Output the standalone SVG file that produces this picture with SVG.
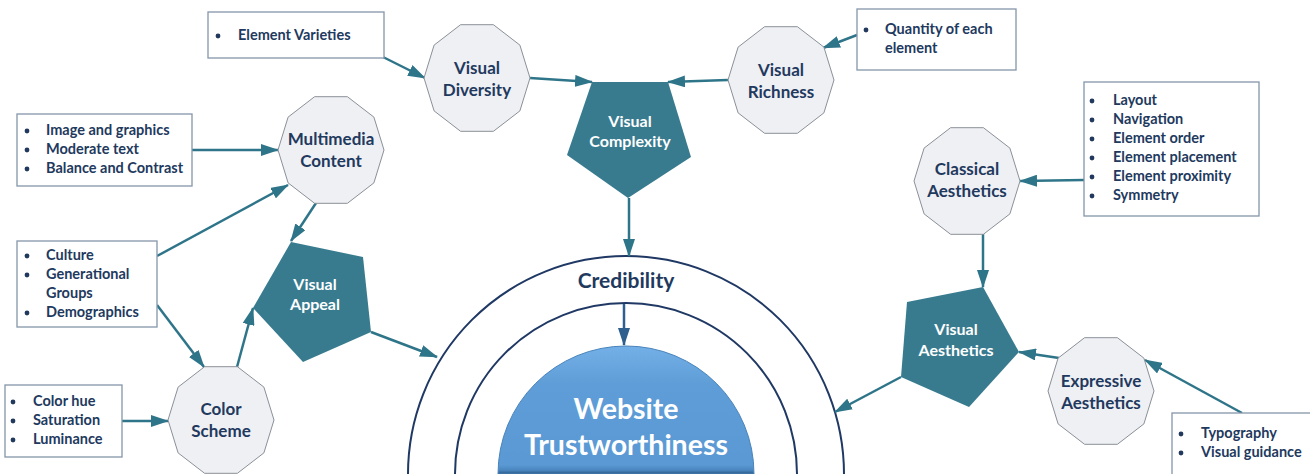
<svg xmlns="http://www.w3.org/2000/svg" width="1310" height="474" viewBox="0 0 1310 474">
<defs>
<style>
.box{fill:#fff;stroke:#8595AA;stroke-width:1.3}
.dec{fill:#EFF0F4;stroke:#8A9098;stroke-width:1}
.pent{fill:#387B8F}
.lt{font-family:Lato,"Liberation Sans",sans-serif;font-weight:bold;font-size:14.5px;fill:#22395E}
.nl{font-family:Lato,"Liberation Sans",sans-serif;font-weight:bold;font-size:17px;fill:#22395E;text-anchor:middle}
.pl{font-family:Lato,"Liberation Sans",sans-serif;font-weight:bold;font-size:16px;fill:#fff;text-anchor:middle}
.bul{fill:#22395E}
.con{stroke:#2F7589;stroke-width:2.5;fill:none;marker-end:url(#ah)}
.arc{fill:none;stroke:#1F3864;stroke-width:2}
</style>
<marker id="ah" markerUnits="userSpaceOnUse" markerWidth="18" markerHeight="12" refX="17" refY="6" orient="auto"><path d="M0,0 L18,6 L0,12 z" fill="#2F7589"/></marker>
<marker id="ah2" markerUnits="userSpaceOnUse" markerWidth="18" markerHeight="12" refX="17" refY="6" orient="auto"><path d="M0,0 L18,6 L0,12 z" fill="#2E5F8E"/></marker>
<polygon id="deca" points="53,0 42.9,32.9 16.4,53.3 -16.4,53.3 -42.9,32.9 -53,0 -42.9,-32.9 -16.4,-53.3 16.4,-53.3 42.9,-32.9"/>
<linearGradient id="dome" gradientUnits="userSpaceOnUse" x1="0" y1="346" x2="0" y2="474">
<stop offset="0" stop-color="#74B0E7"/>
<stop offset="0.3" stop-color="#5E9DD7"/>
<stop offset="0.93" stop-color="#5A99D4"/>
<stop offset="0.97" stop-color="#4A86C0"/>
<stop offset="1" stop-color="#2B5A87"/>
</linearGradient>
</defs>
<rect width="1310" height="474" fill="#fff"/>

<g id="core">
<path class="arc" d="M408,474 A218,218 0 0 1 844,474"/>
<path class="arc" d="M455,474 A171,171 0 0 1 797,474"/>
<path d="M498,474 A128,128 0 0 1 754,474 Z" fill="url(#dome)" stroke="#4A84BB" stroke-width="1"/>
<text x="626" y="288" font-family="Lato,'Liberation Sans',sans-serif" font-weight="bold" font-size="21" fill="#22395E" text-anchor="middle">Credibility</text>
<text x="626" y="419" font-family="Lato,'Liberation Sans',sans-serif" font-weight="bold" font-size="28.5" fill="#fff" text-anchor="middle">Website</text>
<text x="626" y="455" font-family="Lato,'Liberation Sans',sans-serif" font-weight="bold" font-size="28.5" fill="#fff" text-anchor="middle">Trustworthiness</text>
</g>

<g id="connectors">
<line class="con" x1="383" y1="57" x2="425" y2="78"/>
<line class="con" x1="530" y1="78" x2="592" y2="82"/>
<line class="con" x1="857" y1="35" x2="823" y2="48"/>
<line class="con" x1="728" y1="80" x2="668" y2="82"/>
<line class="con" x1="629" y1="198" x2="629" y2="256"/>
<line x1="624" y1="304" x2="624" y2="345" stroke="#2E5F8E" stroke-width="2.5" marker-end="url(#ah2)"/>
<line class="con" x1="1084" y1="180" x2="1020" y2="181"/>
<line class="con" x1="983" y1="234" x2="983" y2="287"/>
<line class="con" x1="1059" y1="358" x2="1019" y2="352"/>
<line class="con" x1="1242" y1="413" x2="1145" y2="360"/>
<line class="con" x1="901" y1="377" x2="835" y2="412"/>
<line class="con" x1="371" y1="332" x2="437" y2="357"/>
<line class="con" x1="316" y1="203" x2="291" y2="241"/>
<line class="con" x1="192" y1="150" x2="278" y2="150"/>
<line class="con" x1="157" y1="256" x2="288" y2="185"/>
<line class="con" x1="157" y1="305" x2="204" y2="367"/>
<line class="con" x1="122" y1="421" x2="168" y2="421"/>
<line class="con" x1="237" y1="367" x2="253" y2="308"/>
</g>

<g id="visual-diversity">
<use href="#deca" class="dec" x="477" y="78"/>
<text class="nl" x="477" y="74">Visual</text>
<text class="nl" x="477" y="96">Diversity</text>
</g>
<g id="visual-richness">
<use href="#deca" class="dec" x="781" y="80"/>
<text class="nl" x="781" y="76">Visual</text>
<text class="nl" x="781" y="98">Richness</text>
</g>
<g id="multimedia-content">
<use href="#deca" class="dec" x="331" y="150"/>
<text class="nl" x="331" y="145">Multimedia</text>
<text class="nl" x="331" y="167">Content</text>
</g>
<g id="color-scheme">
<use href="#deca" class="dec" x="221" y="420"/>
<text class="nl" x="221" y="415">Color</text>
<text class="nl" x="221" y="437">Scheme</text>
</g>
<g id="classical-aesthetics">
<use href="#deca" class="dec" x="967" y="181"/>
<text class="nl" x="967" y="175">Classical</text>
<text class="nl" x="967" y="197">Aesthetics</text>
</g>
<g id="expressive-aesthetics">
<use href="#deca" class="dec" x="1101" y="391"/>
<text class="nl" x="1101" y="387">Expressive</text>
<text class="nl" x="1101" y="409">Aesthetics</text>
</g>

<g id="visual-complexity">
<polygon class="pent" points="592,82 668,82 691,157 628,198 567,155"/>
<text class="pl" x="630" y="127">Visual</text>
<text class="pl" x="630" y="147">Complexity</text>
</g>
<g id="visual-appeal">
<polygon class="pent" points="291,242 363,257 371,332 303,362 253,308"/>
<text class="pl" x="315" y="290">Visual</text>
<text class="pl" x="315" y="310">Appeal</text>
</g>
<g id="visual-aesthetics">
<polygon class="pent" points="983,287 1019,352 969,407 901,377 907,302"/>
<text class="pl" x="956" y="335">Visual</text>
<text class="pl" x="956" y="356">Aesthetics</text>
</g>

<g id="box-element-varieties">
<rect class="box" x="208" y="12" width="176" height="46"/>
<circle class="bul" cx="218" cy="36" r="2.4"/>
<text class="lt" x="238" y="40">Element Varieties</text>
</g>
<g id="box-quantity">
<rect class="box" x="857" y="9" width="159" height="61"/>
<circle class="bul" cx="866" cy="30" r="2.4"/>
<text class="lt" x="885" y="34">Quantity of each</text>
<text class="lt" x="885" y="53">element</text>
</g>
<g id="box-classical">
<rect class="box" x="1084" y="82" width="175" height="134"/>
<circle class="bul" cx="1092" cy="101" r="2.4"/>
<circle class="bul" cx="1092" cy="120" r="2.4"/>
<circle class="bul" cx="1092" cy="139" r="2.4"/>
<circle class="bul" cx="1092" cy="158" r="2.4"/>
<circle class="bul" cx="1092" cy="177" r="2.4"/>
<circle class="bul" cx="1092" cy="196" r="2.4"/>
<text class="lt" x="1113" y="105">Layout</text>
<text class="lt" x="1113" y="124">Navigation</text>
<text class="lt" x="1113" y="143">Element order</text>
<text class="lt" x="1113" y="162">Element placement</text>
<text class="lt" x="1113" y="181">Element proximity</text>
<text class="lt" x="1113" y="200">Symmetry</text>
</g>
<g id="box-multimedia">
<rect class="box" x="17" y="114" width="175" height="72"/>
<circle class="bul" cx="27" cy="131" r="2.4"/>
<circle class="bul" cx="27" cy="150" r="2.4"/>
<circle class="bul" cx="27" cy="169" r="2.4"/>
<text class="lt" x="46" y="135">Image and graphics</text>
<text class="lt" x="46" y="154">Moderate text</text>
<text class="lt" x="46" y="173">Balance and Contrast</text>
</g>
<g id="box-culture">
<rect class="box" x="17" y="241" width="140" height="86"/>
<circle class="bul" cx="27" cy="256" r="2.4"/>
<circle class="bul" cx="27" cy="275" r="2.4"/>
<circle class="bul" cx="27" cy="313" r="2.4"/>
<text class="lt" x="46" y="260">Culture</text>
<text class="lt" x="46" y="279">Generational</text>
<text class="lt" x="46" y="298">Groups</text>
<text class="lt" x="46" y="317">Demographics</text>
</g>
<g id="box-color">
<rect class="box" x="5" y="385" width="117" height="72"/>
<circle class="bul" cx="13" cy="402" r="2.4"/>
<circle class="bul" cx="13" cy="421" r="2.4"/>
<circle class="bul" cx="13" cy="440" r="2.4"/>
<text class="lt" x="33" y="406">Color hue</text>
<text class="lt" x="33" y="425">Saturation</text>
<text class="lt" x="33" y="444">Luminance</text>
</g>
<g id="box-expressive">
<rect class="box" x="1172" y="413" width="150" height="80"/>
<circle class="bul" cx="1181" cy="434" r="2.4"/>
<circle class="bul" cx="1181" cy="453" r="2.4"/>
<text class="lt" x="1201" y="438">Typography</text>
<text class="lt" x="1201" y="457">Visual guidance</text>
</g>
</svg>
